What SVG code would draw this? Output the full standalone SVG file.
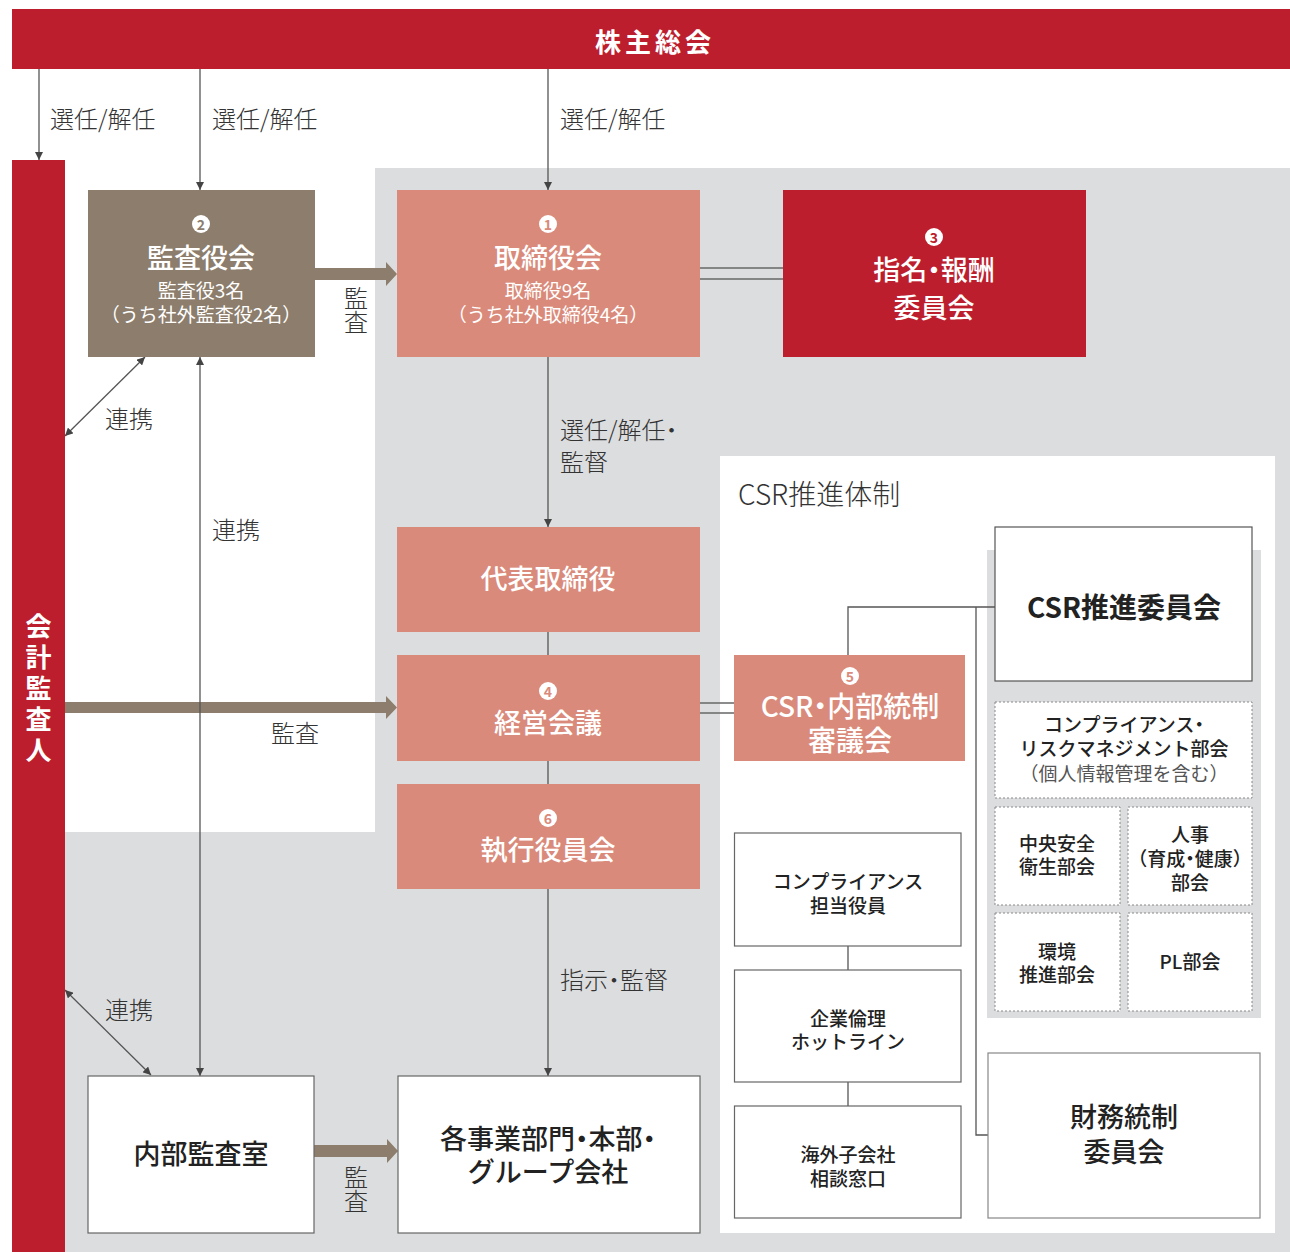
<svg xmlns="http://www.w3.org/2000/svg" width="1290" height="1252" viewBox="0 0 1290 1252">
<defs>
<style>
text{font-family:"Noto Sans CJK JP","Noto Sans",sans-serif;dominant-baseline:central}
.w{fill:#fff}
.c{text-anchor:middle}
.t{font-size:27px;font-weight:500}
.s{font-size:19px;font-weight:400}
.lab{font-size:24px;font-weight:300;fill:#333}
.bt{font-size:27px;font-weight:500;fill:#222}
.mt{font-size:19px;font-weight:500;fill:#222}
.num{font-size:14px;font-weight:700;fill:#DA8A7A;text-anchor:middle}
.vert{writing-mode:vertical-rl;text-anchor:middle}
.p{font-feature-settings:"palt"}
.wb{fill:#fff;stroke:#666;stroke-width:1.2}
.db{fill:#fff;stroke:#888;stroke-width:1;stroke-dasharray:2 2}
.ln{fill:none;stroke:#555;stroke-width:1.3}
.dl{stroke:#666;stroke-width:1.5}
.thick{fill:#8C7D6C}
</style>
<marker id="ah" viewBox="0 0 10 10" refX="10" refY="5" markerWidth="8" markerHeight="8" markerUnits="userSpaceOnUse" orient="auto-start-reverse">
<path d="M0,0 L10,5 L0,10 Z" fill="#444"/>
</marker>
</defs>

<!-- backgrounds -->
<rect x="0" y="0" width="1290" height="1252" fill="#fff"/>
<path d="M375,168 H1290 V1252 H65 V832 H375 Z" fill="#DCDDDF"/>
<rect x="720" y="456" width="555" height="777" fill="#fff"/>
<rect x="987" y="550" width="274" height="468" fill="#DCDDDF"/>
<text x="738" y="493" style="font-size:28px;font-weight:300;fill:#333">CSR推進体制</text>

<!-- connectors -->
<g id="connectors">
<line class="ln" x1="39" y1="69" x2="39" y2="160" marker-end="url(#ah)"/>
<line class="ln" x1="200" y1="69" x2="200" y2="190" marker-end="url(#ah)"/>
<line class="ln" x1="548" y1="69" x2="548" y2="190" marker-end="url(#ah)"/>
<line class="ln" x1="548" y1="357" x2="548" y2="527" marker-end="url(#ah)"/>
<line class="ln" x1="548" y1="632" x2="548" y2="655"/>
<line class="ln" x1="548" y1="761" x2="548" y2="784"/>
<line class="ln" x1="548" y1="889" x2="548" y2="1076" marker-end="url(#ah)"/>
<line class="ln" x1="145" y1="357" x2="65" y2="436" marker-start="url(#ah)" marker-end="url(#ah)"/>
<line class="ln" x1="65" y1="990" x2="151" y2="1075" marker-start="url(#ah)" marker-end="url(#ah)"/>
<line class="dl" x1="700" y1="268" x2="783" y2="268"/>
<line class="dl" x1="700" y1="279" x2="783" y2="279"/>
<line class="dl" x1="700" y1="703" x2="734" y2="703"/>
<line class="dl" x1="700" y1="713" x2="734" y2="713"/>
<path class="ln" d="M848,655 V607 H995"/>
<path class="ln" d="M976,607 V1135 H988"/>
<line class="ln" x1="848" y1="946" x2="848" y2="970"/>
<line class="ln" x1="848" y1="1082" x2="848" y2="1106"/>
<path class="thick" d="M315,268 H386 V262 L397,274 L386,286 V280 H315 Z"/>
<path class="thick" d="M65,702 H386 V696 L397,707.5 L386,719 V713 H65 Z"/>
<path class="thick" d="M314,1145 H387 V1139 L398,1151 L387,1163 V1157 H314 Z"/>
<line class="ln" x1="200" y1="357" x2="200" y2="1076" marker-start="url(#ah)" marker-end="url(#ah)"/>
<text class="lab" x="50" y="117">選任/解任</text>
<text class="lab" x="212" y="117">選任/解任</text>
<text class="lab" x="560" y="117">選任/解任</text>
<text class="lab" x="560" y="428">選任/解任<tspan class="p">・</tspan><tspan x="560" dy="32">監督</tspan></text>
<text class="lab" x="105" y="417">連携</text>
<text class="lab" x="212" y="528">連携</text>
<text class="lab" x="105" y="1008">連携</text>
<text class="lab" x="271" y="731">監査</text>
<text class="lab" x="560" y="978">指示<tspan class="p">・</tspan>監督</text>
<text class="lab vert" x="356" y="310">監査</text>
<text class="lab vert" x="356" y="1189">監査</text>
</g>

<!-- nodes -->
<g id="shareholders">
<rect x="12" y="9" width="1278" height="60" fill="#BC1E2D"/>
<text class="w c" x="655" y="40" style="font-size:26px;font-weight:700;letter-spacing:4px">株主総会</text>
</g>

<g id="auditor">
<rect x="12" y="160" width="53" height="1092" fill="#BC1E2D"/>
<text class="w vert" x="38.5" y="691" style="font-size:26px;font-weight:700;letter-spacing:5px">会計監査人</text>
</g>

<g id="kansayakukai">
<rect x="88" y="190" width="227" height="167" fill="#8C7D6C"/>
<circle cx="201" cy="224" r="9" fill="#fff"/>
<text class="num" x="201" y="224" style="fill:#8C7D6C">2</text>
<text class="w c t" x="201" y="256">監査役会</text>
<text class="w c s" x="201" y="289">監査役3名<tspan x="201" dy="24">（うち社外監査役2名）</tspan></text>
</g>

<g id="torishimariyakukai">
<rect x="397" y="190" width="303" height="167" fill="#DA8A7A"/>
<circle cx="548" cy="224" r="9" fill="#fff"/>
<text class="num" x="548" y="224">1</text>
<text class="w c t" x="548" y="256">取締役会</text>
<text class="w c s" x="548" y="289">取締役9名<tspan x="548" dy="24">（うち社外取締役4名）</tspan></text>
</g>

<g id="shimei">
<rect x="783" y="190" width="303" height="167" fill="#BC1E2D"/>
<circle cx="934" cy="237" r="9" fill="#fff"/>
<text class="num" x="934" y="237" style="fill:#BC1E2D">3</text>
<text class="w c t" x="934" y="268">指名<tspan class="p">・</tspan>報酬<tspan x="934" dy="38">委員会</tspan></text>
</g>

<g id="daihyo">
<rect x="397" y="527" width="303" height="105" fill="#DA8A7A"/>
<text class="w c t" x="548" y="577">代表取締役</text>
</g>

<g id="keiei">
<rect x="397" y="655" width="303" height="106" fill="#DA8A7A"/>
<circle cx="548" cy="691" r="9" fill="#fff"/>
<text class="num" x="548" y="691">4</text>
<text class="w c t" x="548" y="721">経営会議</text>
</g>

<g id="shikko">
<rect x="397" y="784" width="303" height="105" fill="#DA8A7A"/>
<circle cx="548" cy="818" r="9" fill="#fff"/>
<text class="num" x="548" y="818">6</text>
<text class="w c t" x="548" y="848">執行役員会</text>
</g>

<g id="naibukansa">
<rect class="wb" x="88" y="1076" width="226" height="157"/>
<text class="bt c" x="201" y="1152">内部監査室</text>
</g>

<g id="jigyobu">
<rect class="wb" x="398" y="1076" width="302" height="157"/>
<text class="bt c" x="548" y="1137">各事業部門<tspan class="p">・</tspan>本部<tspan class="p">・</tspan><tspan x="548" dy="33">グループ会社</tspan></text>
</g>

<g id="csr-shingikai">
<rect x="734" y="655" width="231" height="106" fill="#DA8A7A"/>
<circle cx="850" cy="676" r="9" fill="#fff"/>
<text class="num" x="850" y="676">5</text>
<text class="w c t" x="850" y="705" style="font-size:28px">CSR<tspan class="p">・</tspan>内部統制<tspan x="850" dy="34">審議会</tspan></text>
</g>

<g id="csr-iinkai">
<rect x="995" y="527" width="257" height="154" fill="#fff" stroke="#555" stroke-width="1.2"/>
<text class="c" x="1124" y="606" style="font-size:28px;font-weight:700;fill:#222">CSR推進委員会</text>
</g>

<g id="compliance-bukai">
<rect class="db" x="995" y="702" width="257" height="96"/>
<text class="mt c" x="1124" y="723">コンプライアンス<tspan class="p">・</tspan><tspan x="1124" dy="24">リスクマネジメント部会</tspan><tspan x="1124" dy="25" style="font-weight:400;fill:#555">（個人情報管理を含む）</tspan></text>
</g>

<g id="anzen-bukai">
<rect class="db" x="995" y="807" width="125" height="98"/>
<text class="mt c" x="1057" y="842">中央安全<tspan x="1057" dy="23">衛生部会</tspan></text>
</g>

<g id="jinji-bukai">
<rect class="db" x="1128" y="807" width="124" height="98"/>
<text class="mt c" x="1190" y="833">人事<tspan x="1190" dy="24">（育成<tspan class="p">・</tspan>健康）</tspan><tspan x="1190" dy="24">部会</tspan></text>
</g>

<g id="kankyo-bukai">
<rect class="db" x="995" y="913" width="125" height="98"/>
<text class="mt c" x="1057" y="950">環境<tspan x="1057" dy="23">推進部会</tspan></text>
</g>

<g id="pl-bukai">
<rect class="db" x="1128" y="913" width="124" height="98"/>
<text class="mt c" x="1190" y="960">PL部会</text>
</g>

<g id="zaimu">
<rect x="988" y="1053" width="272" height="165" fill="#fff" stroke="#888" stroke-width="1.2"/>
<text class="bt c" x="1124" y="1115">財務統制<tspan x="1124" dy="35">委員会</tspan></text>
</g>

<g id="compliance-yakuin">
<rect class="wb" x="734.5" y="833" width="226.5" height="113"/>
<text class="mt c" x="848" y="880">コンプライアンス<tspan x="848" dy="24">担当役員</tspan></text>
</g>

<g id="hotline">
<rect class="wb" x="734.5" y="970" width="226.5" height="112"/>
<text class="mt c" x="848" y="1017">企業倫理<tspan x="848" dy="23">ホットライン</tspan></text>
</g>

<g id="kaigai">
<rect class="wb" x="734.5" y="1106" width="226.5" height="112"/>
<text class="mt c" x="848" y="1153">海外子会社<tspan x="848" dy="24">相談窓口</tspan></text>
</g>
</svg>
